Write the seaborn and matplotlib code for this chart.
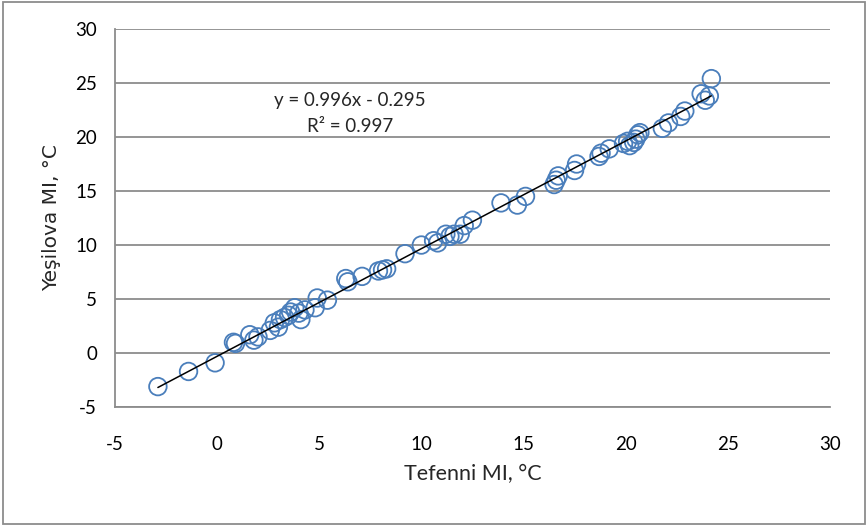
import matplotlib
matplotlib.use("Agg")
import matplotlib.pyplot as plt
import numpy as np
import pandas as pd
import seaborn as sns

# Tefenni MI vs Yesilova MI
tefenni = [-2.9, -1.4, -0.1, 0.8, 0.9, 1.6, 1.8, 2.0, 2.6, 2.8, 3.0, 3.1, 3.3, 3.5,
           3.6, 3.8, 4.0, 4.1, 4.3, 4.8, 4.9, 5.4, 6.3, 6.4, 7.1, 7.9, 8.1, 8.3,
           9.2, 10.0, 10.6, 10.8, 11.2, 11.4, 11.6, 11.9, 12.1, 12.5, 13.9, 14.7,
           15.1, 16.5, 16.6, 16.7, 17.5, 17.6, 18.7, 18.8, 19.2, 19.9, 20.1, 20.2,
           20.4, 20.5, 20.6, 20.7, 21.8, 22.1, 22.7, 22.9, 23.7, 23.9, 24.1, 24.2]
yesilova = [-3.1, -1.7, -0.9, 1.0, 0.9, 1.7, 1.2, 1.5, 2.1, 2.8, 2.4, 3.1, 3.3, 3.5,
            3.8, 4.2, 3.7, 3.1, 4.0, 4.2, 5.1, 4.9, 6.9, 6.6, 7.1, 7.6, 7.7, 7.8,
            9.2, 10.0, 10.4, 10.2, 11.0, 10.8, 11.0, 11.0, 11.8, 12.3, 13.9, 13.7,
            14.5, 15.6, 16.0, 16.4, 16.9, 17.5, 18.2, 18.5, 18.9, 19.4, 19.6, 19.2,
            19.5, 19.8, 20.2, 20.4, 20.8, 21.3, 21.9, 22.4, 24.0, 23.4, 23.8, 25.4]

slope = 0.996
intercept = -0.295
eq_text = "y = 0.996x - 0.295"
r2_text = "R² = 0.997"

df = pd.DataFrame({"Tefenni": tefenni, "Yesilova": yesilova})
xs = np.array([min(tefenni), max(tefenni)])
fit = pd.DataFrame({"x": xs, "y": slope * xs + intercept})

sns.set_style("white")
plt.rcParams["font.family"] = ["Lato", "DejaVu Sans"]
plt.rcParams["axes.unicode_minus"] = False

fig = plt.figure(figsize=(8.68, 5.26), dpi=100)
ax = fig.add_axes([0.1325, 0.226, 0.8235, 0.719])

ax.yaxis.grid(True, color="#8c8c8c", linewidth=1.3)
ax.set_axisbelow(True)

sns.scatterplot(data=df, x="Tefenni", y="Yesilova", ax=ax, marker="o", s=160,
                facecolor="none", edgecolor="#4a7ebb", linewidth=1.3, zorder=3)
sns.lineplot(data=fit, x="x", y="y", ax=ax, color="black", linewidth=1.1, zorder=4)

ax.set_xlim(-5, 30)
ax.set_ylim(-5, 30)
ax.set_xticks(range(-5, 31, 5))
ax.set_yticks(range(-5, 31, 5))

for side in ["top", "right"]:
    ax.spines[side].set_visible(False)
for side in ["left", "bottom"]:
    ax.spines[side].set_color("#8c8c8c")
    ax.spines[side].set_linewidth(1.3)

ax.tick_params(axis="both", direction="out", length=5, width=1.3, color="#8c8c8c",
               labelsize=13.5, labelcolor="black", pad=8)
ax.tick_params(axis="x", pad=16)

ax.set_xlabel("Tefenni MI, °C", fontsize=15.5, labelpad=8)
ax.set_ylabel("Yeşilova MI, °C", fontsize=14.5, labelpad=10, family=["DejaVu Sans"])

ax.text(0.329, 0.812, eq_text, transform=ax.transAxes, fontsize=13.5, ha="center", va="center")
ax.text(0.329, 0.742, r2_text, transform=ax.transAxes, fontsize=13.5, ha="center", va="center")

border = plt.Rectangle((0.004, 0.004), 0.992, 0.992, transform=fig.transFigure,
                       fill=False, edgecolor="#8c8c8c", linewidth=1.3)
fig.patches.append(border)

fig.savefig("out.png", dpi=100)
